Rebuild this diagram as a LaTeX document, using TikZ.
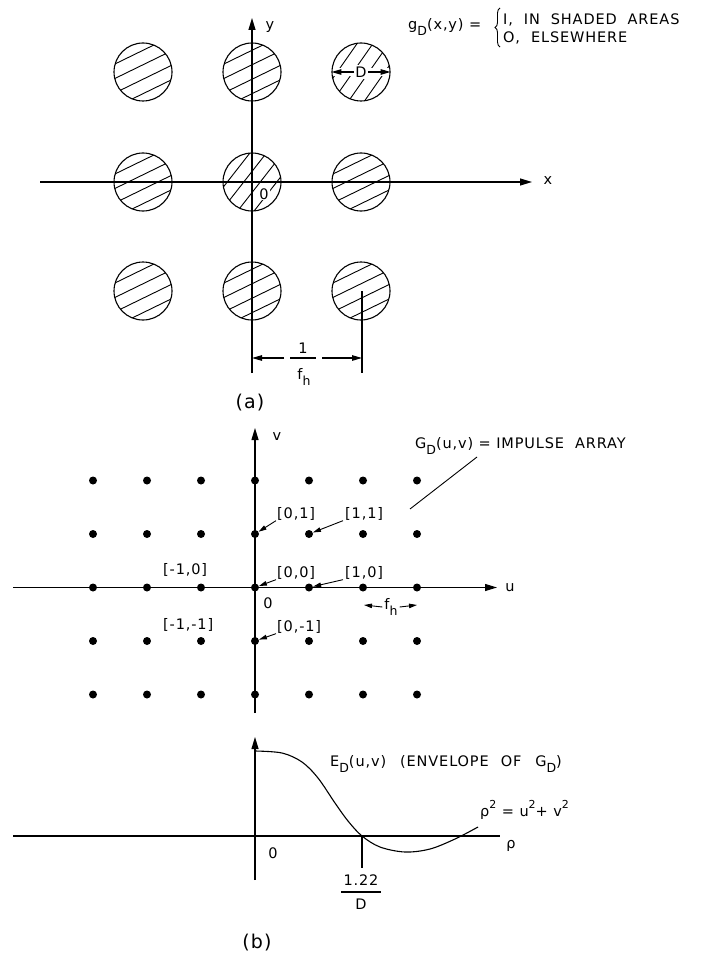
\documentclass[tikz,border=0pt]{standalone}
\usepackage{fontspec}
\setmainfont{DejaVu Sans}[LetterSpace=6]
\usetikzlibrary{arrows.meta,decorations.pathreplacing,calc}
\newcommand\lowsub[1]{\raisebox{-0.45em}{\fontsize{12.5}{12.5}\selectfont #1}}
\newcommand\hisup[1]{\raisebox{0.55em}{\fontsize{11}{11}\selectfont #1}}
\newcommand\hcirc[4]{%
  \begin{scope}[shift={(#2,#3)}]
    \clip (0,0) circle[radius=29pt];
    \begin{scope}[rotate=#4]
      \foreach \k in {-19.5,-6.5,6.5,19.5} \draw[hatch] (-40,\k) -- (40,\k);
    \end{scope}
  \end{scope}
  \node[ring] (#1) at (#2,#3) {};}
\begin{document}
\begin{tikzpicture}[x=1pt,y=-1pt,
  font=\fontsize{14.5}{16}\selectfont,
  ax/.style={line width=1.1pt},
  tip/.style={-{Triangle[length=12pt,width=7pt]}},
  dimtip/.style={-{Triangle[length=10pt,width=5.5pt]}},
  lbl/.style={inner sep=0pt},
  dotn/.style={circle,fill,inner sep=0pt,minimum size=8pt},
  ring/.style={circle,draw,line width=1.1pt,minimum size=58pt,inner sep=0pt},
  hatch/.style={line width=0.9pt},
  ptr/.style={-{Triangle[length=8pt,width=4.5pt]},line width=0.9pt}]
\useasboundingbox (0,0) rectangle (709,960);

% ---------- (a) ----------
\hcirc{c11}{143}{72}{26}
\hcirc{c21}{252}{72}{26}
\hcirc{c31}{361}{72}{55}
\hcirc{c12}{143}{182}{26}
\hcirc{c22}{252}{182}{52}
\hcirc{c32}{361}{182}{26}
\hcirc{c13}{143}{291}{26}
\hcirc{c23}{252}{291}{26}
\hcirc{c33}{361}{291}{26}

% D dimension
\draw[white,line width=8pt] (334,72) -- (388,72);
\node[lbl,fill=white,inner sep=1.5pt] (Dl) at (361,72) {D};
\draw[ax,dimtip] (Dl.west) -- (c31.west);
\draw[ax,dimtip] (Dl.east) -- (c31.east);

% axes
\coordinate (xs) at (40,182);
\coordinate (xe) at (532,182);
\coordinate (ys) at (252,373);
\coordinate (ye) at (252,18);
\draw[ax,tip] (xs) -- (xe);
\draw[ax,tip] (ys) -- (ye);
\node[lbl] (xl) at (548,181) {x};
\node[lbl] (yl) at (270,27) {y};
\node[lbl,fill=white,inner sep=1pt] (o1) at (264,194) {0};

% 1/f_h dimension
\coordinate (e1) at (362,291);
\coordinate (e2) at (362,373);
\draw[ax] (e1) -- (e2);
\node[lbl] (one) at (303,348) {1};
\node[lbl] (fh1) at (304,377) {f\lowsub{h}};
\coordinate (b1) at (290,358);
\coordinate (b2) at (316,358);
\draw[ax] (b1) -- (b2);
\coordinate (dl) at (252,358);
\coordinate (dr) at (362,358);
\coordinate (al) at (284,358);
\coordinate (ar) at (322,358);
\draw[ax,dimtip] (al) -- (dl);
\draw[ax,dimtip] (ar) -- (dr);

% formula
\node[lbl,anchor=west] (gdef) at (408,27) {g\lowsub{D}(x,y) =};
\coordinate (br1) at (500,47);
\coordinate (br2) at (500,8);
\draw[line width=0.9pt,decorate,decoration={brace,amplitude=5pt}] (br1) -- (br2);
\node[lbl,anchor=west] (case1) at (503,20) {I,~~IN~~SHADED~~AREAS};
\node[lbl,anchor=west] (case2) at (503,38) {O,~~ELSEWHERE};

\node[lbl,font=\fontsize{19}{20}\selectfont] (capa) at (250,403) {(a)};

% ---------- (b) ----------
\foreach \i in {0,...,6}
  \foreach \j in {0,...,4}
    \node[dotn] (d\i\j) at ({93+54*\i},{480.5+53.5*\j}) {};

\coordinate (vs) at (255,713);
\coordinate (ve) at (255,428);
\coordinate (us) at (13,587.5);
\coordinate (ue) at (497,587.5);
\draw[ax,tip] (vs) -- (ve);
\draw[ax,tip] (us) -- (ue);
\node[lbl] (vl) at (277,437) {v};
\node[lbl] (ul) at (510,588) {u};
\node[lbl] (o2) at (268,603) {0};

\node[lbl,anchor=west] (L01) at (277,514) {[0,1]};
\node[lbl,anchor=west] (L11) at (345,514) {[1,1]};
\node[lbl,anchor=west] (L00) at (277,573) {[0,0]};
\node[lbl,anchor=west] (L10) at (345,573) {[1,0]};
\node[lbl,anchor=west] (Lm10) at (163,570) {[-1,0]};
\node[lbl,anchor=west] (Lm1m1) at (163,625) {[-1,-1]};
\node[lbl,anchor=west] (L0m1) at (277,627) {[0,-1]};
\draw[ptr] ([xshift=-1pt]L01.south west) -- (d31);
\draw[ptr] ([xshift=-2pt]L11.south west) -- (d41);
\draw[ptr] ([xshift=-1pt]L00.south west) -- (d32);
\draw[ptr] ([xshift=-2pt]L10.south west) -- (d42);
\draw[ptr] ([xshift=-1pt]L0m1.south west) -- (d33);

\node[lbl] (fh2) at (391,607) {f\lowsub{h}};
\coordinate (fl) at (364,605);
\coordinate (fr) at (417,605);
\draw[ptr] ([xshift=-2pt]fh2.west) -- (fl);
\draw[ptr] ([xshift=2pt]fh2.east) -- (fr);

\node[lbl,anchor=west] (GD) at (415,446) {G\lowsub{D}(u,v) = IMPULSE~~ARRAY};
\coordinate (g1) at (410,509);
\coordinate (g2) at (477,457);
\draw[line width=0.9pt] (g1) -- (g2);

% envelope
\coordinate (es) at (255,880);
\coordinate (ee) at (255,737);
\coordinate (rs) at (13,836);
\coordinate (re) at (500,836);
\draw[ax,tip] (es) -- (ee);
\draw[ax] (rs) -- (re);
\node[lbl] (rl) at (511,846) {ρ};
\draw[ax] plot[smooth,tension=0.55] coordinates {(255,751) (282,753) (302,762) (318,778) (335,803) (348,821) (362,836) (380,847) (405,852) (430,849) (455,839) (478,827)};
\coordinate (t1) at (362,836);
\coordinate (t2) at (362,868);
\draw[ax] (t1) -- (t2);
\node[lbl] (o3) at (273,853) {0};
\node[lbl] (n122) at (361,880) {1.22};
\coordinate (fb1) at (341,892);
\coordinate (fb2) at (381,892);
\draw[ax] (fb1) -- (fb2);
\node[lbl] (nD) at (361,904) {D};
\node[lbl,anchor=west] (ED) at (330,764) {E\lowsub{D}(u,v)\hspace{14pt}(ENVELOPE\hspace{12pt}OF\hspace{14pt}G\lowsub{D})};
\node[lbl,anchor=west] (rho2) at (480,810) {ρ\hisup{2} = u\hisup{2}+ v\hisup{2}};
\node[lbl,font=\fontsize{19}{20}\selectfont] (capb) at (257,943) {(b)};
\end{tikzpicture}
\end{document}
